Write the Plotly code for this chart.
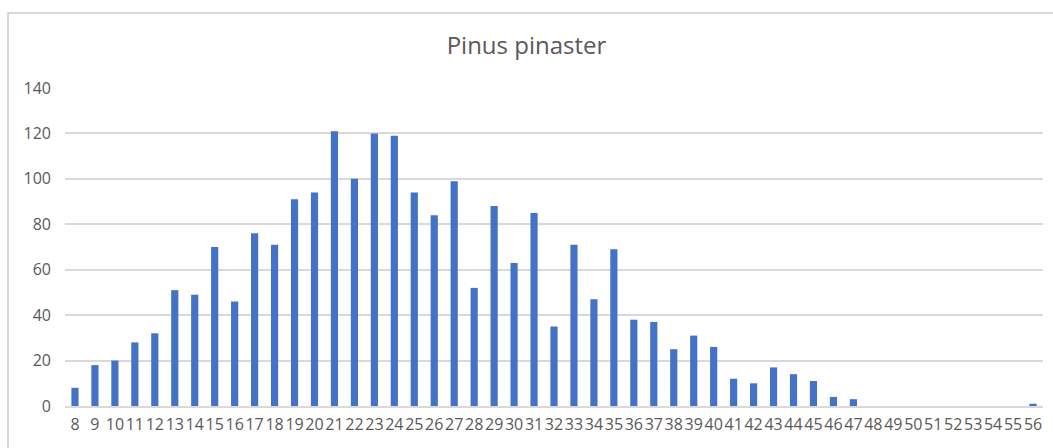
import plotly.graph_objects as go

categories = [str(i) for i in range(8, 57)]
values = [8, 18, 20, 28, 32, 51, 49, 70, 46, 76, 71, 91, 94, 121, 100, 120, 119,
          94, 84, 99, 52, 88, 63, 85, 35, 71, 47, 69, 38, 37, 25, 31, 26, 12, 10,
          17, 14, 11, 4, 3, 0, 0, 0, 0, 0, 0, 0, 0, 1]
y_ticks = [0, 20, 40, 60, 80, 100, 120, 140]

fig = go.Figure(go.Bar(x=categories, y=values, marker_color="#4472C4",
                       marker_line_width=0))

W, H = 1053, 448
ml, mr, mt, mb = 65, 10, 88, 42
pw, ph = W - ml - mr, H - mt - mb
fig.update_layout(
    width=W, height=H,
    margin=dict(l=ml, r=mr, t=mt, b=mb),
    paper_bgcolor="white", plot_bgcolor="white",
    bargap=0.64,
    font=dict(family="Open Sans", color="#595959", size=16),
    title=dict(text="Pinus pinaster", x=0.5, xanchor="center", y=1 - 46 / H,
               yanchor="middle", font=dict(size=24, color="#595959")),
    showlegend=False,
)
fig.update_xaxes(type="category", showgrid=False, showline=True, linecolor="#d9d9d9",
                 linewidth=2, ticks="outside", ticklen=3, tickcolor="rgba(0,0,0,0)",
                 tickfont=dict(size=16), tickangle=0)
fig.update_yaxes(range=[0, 140], tickvals=y_ticks, showgrid=True, gridcolor="#d9d9d9",
                 gridwidth=1.5, zeroline=False, showline=False, ticks="",
                 ticklabelstandoff=13, tickfont=dict(size=16))

# chart border (Excel chart area)
fig.add_shape(type="rect", xref="paper", yref="paper",
              x0=(8 - ml) / pw, x1=(W + 20 - ml) / pw,
              y0=-(mb + 20) / ph, y1=1 + (mt - 13) / ph,
              line=dict(color="#d9d9d9", width=2),
              fillcolor="rgba(0,0,0,0)", layer="below")

fig.write_html("out.html", config={"displayModeBar": False},
               post_script="document.body.style.margin='0';")
